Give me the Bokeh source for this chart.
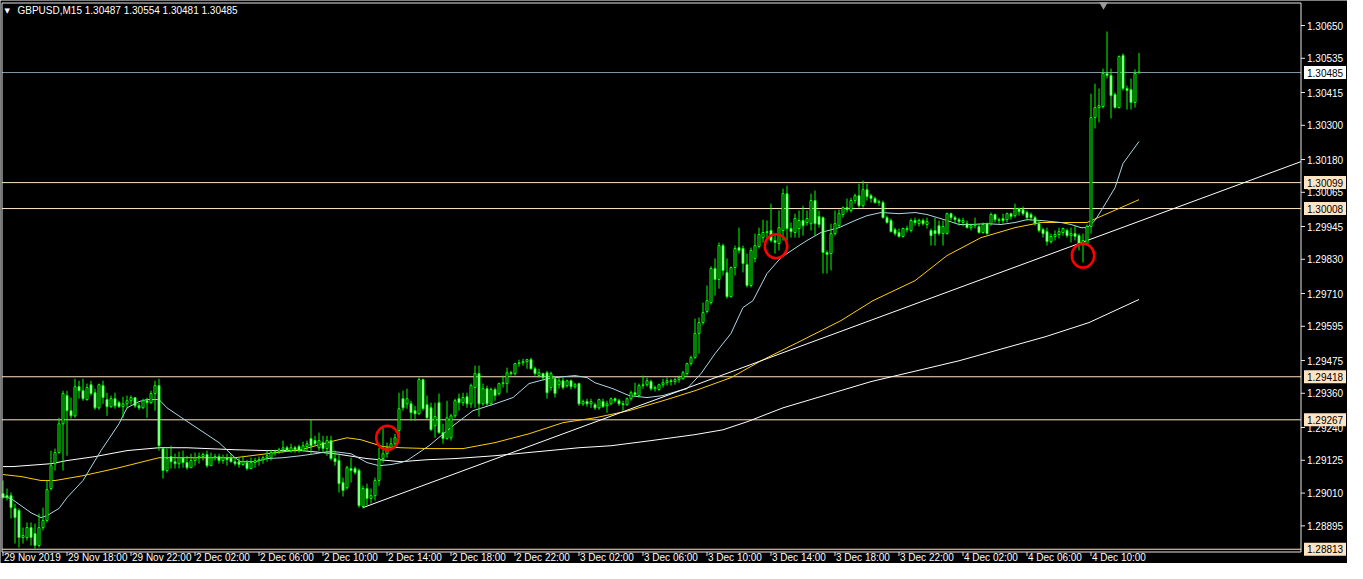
from bokeh.plotting import figure
from bokeh.models import ColumnDataSource, Range1d
from bokeh.embed import file_html
from bokeh.resources import INLINE
from bokeh.core.properties import value

# ---------------- data (GBPUSD M15, 29 Nov 2019 14:00 -> 4 Dec 2019 13:00) ----------------
opens = [
    1.29008, 1.29001, 1.29001, 1.28956, 1.28949, 1.28854, 1.28854, 1.28889, 1.28868, 1.28826,
    1.28889, 1.28914, 1.29026, 1.29113, 1.29152, 1.29253, 1.29352, 1.29299, 1.29281, 1.29383,
    1.29369, 1.29338, 1.29390, 1.29362, 1.29309, 1.29387, 1.29338, 1.29313, 1.29341, 1.29327,
    1.29313, 1.29323, 1.29334, 1.29345, 1.29316, 1.29309, 1.29334, 1.29327, 1.29359, 1.29387,
    1.29166, 1.29089, 1.29138, 1.29120, 1.29113, 1.29134, 1.29117, 1.29099, 1.29124, 1.29134,
    1.29138, 1.29145, 1.29106, 1.29134, 1.29138, 1.29124, 1.29134, 1.29134, 1.29120, 1.29120,
    1.29110, 1.29117, 1.29096, 1.29117, 1.29124, 1.29127, 1.29134, 1.29134, 1.29152, 1.29155,
    1.29162, 1.29169, 1.29159, 1.29169, 1.29173, 1.29159, 1.29173, 1.29201, 1.29194, 1.29169,
    1.29187, 1.29166, 1.29194, 1.29131, 1.29124, 1.29047, 1.29029, 1.29096, 1.29096, 1.29089,
    1.28963, 1.29026, 1.28991, 1.29001, 1.29054, 1.29131, 1.29148, 1.29169, 1.29183, 1.29229,
    1.29341, 1.29323, 1.29323, 1.29299, 1.29288, 1.29408, 1.29320, 1.29309, 1.29246, 1.29327,
    1.29222, 1.29201, 1.29204, 1.29281, 1.29341, 1.29327, 1.29348, 1.29323, 1.29380, 1.29429,
    1.29323, 1.29376, 1.29323, 1.29373, 1.29359, 1.29394, 1.29394, 1.29432, 1.29429, 1.29464,
    1.29467, 1.29471, 1.29478, 1.29446, 1.29422, 1.29429, 1.29432, 1.29380, 1.29411, 1.29390,
    1.29404, 1.29387, 1.29404, 1.29383, 1.29394, 1.29323, 1.29331, 1.29323, 1.29320, 1.29309,
    1.29331, 1.29316, 1.29323, 1.29341, 1.29334, 1.29323, 1.29320, 1.29341, 1.29362, 1.29352,
    1.29387, 1.29390, 1.29401, 1.29376, 1.29373, 1.29390, 1.29397, 1.29404, 1.29401, 1.29408,
    1.29411, 1.29429, 1.29464, 1.29485, 1.29570, 1.29608, 1.29647, 1.29678, 1.29798, 1.29759,
    1.29878, 1.29784, 1.29699, 1.29801, 1.29871, 1.29868, 1.29812, 1.29738, 1.29833, 1.29875,
    1.29906, 1.29924, 1.29931, 1.29896, 1.29885, 1.29931, 1.30060, 1.29938, 1.29924, 1.29938,
    1.29966, 1.29959, 1.29955, 1.30036, 1.29980, 1.29976, 1.29854, 1.29850, 1.29920, 1.29948,
    1.29987, 1.30011, 1.30001, 1.30036, 1.30053, 1.30018, 1.30074, 1.30053, 1.30043, 1.30029,
    1.30029, 1.29976, 1.29966, 1.29934, 1.29924, 1.29910, 1.29938, 1.29931, 1.29966, 1.29955,
    1.29966, 1.29952, 1.29931, 1.29931, 1.29948, 1.29920, 1.29920, 1.29990, 1.29976, 1.29969,
    1.29959, 1.29955, 1.29941, 1.29948, 1.29945, 1.29924, 1.29955, 1.29955, 1.29987, 1.29969,
    1.29973, 1.29969, 1.29990, 1.29983, 1.30008, 1.30004, 1.29994, 1.29987, 1.29976, 1.29955,
    1.29934, 1.29927, 1.29892, 1.29910, 1.29917, 1.29924, 1.29931, 1.29913, 1.29920, 1.29913,
    1.29885, 1.29885, 1.29945, 1.30327, 1.30362, 1.30366, 1.30482, 1.30475, 1.30408, 1.30362,
    1.30545, 1.30429, 1.30425, 1.30380, 1.30487,
]
highs = [
    1.29054, 1.29026, 1.29012, 1.28973, 1.28956, 1.28889, 1.28907, 1.28907, 1.28903, 1.28938,
    1.28959, 1.29054, 1.29159, 1.29166, 1.29274, 1.29369, 1.29369, 1.29345, 1.29411, 1.29404,
    1.29411, 1.29394, 1.29404, 1.29376, 1.29394, 1.29404, 1.29362, 1.29352, 1.29362, 1.29334,
    1.29348, 1.29352, 1.29352, 1.29345, 1.29327, 1.29341, 1.29345, 1.29369, 1.29404, 1.29411,
    1.29166, 1.29166, 1.29176, 1.29148, 1.29155, 1.29159, 1.29141, 1.29148, 1.29152, 1.29152,
    1.29152, 1.29159, 1.29152, 1.29148, 1.29148, 1.29145, 1.29148, 1.29148, 1.29134, 1.29134,
    1.29141, 1.29127, 1.29134, 1.29134, 1.29138, 1.29141, 1.29159, 1.29162, 1.29162, 1.29169,
    1.29194, 1.29176, 1.29183, 1.29176, 1.29180, 1.29190, 1.29194, 1.29267, 1.29211, 1.29222,
    1.29211, 1.29211, 1.29211, 1.29159, 1.29148, 1.29064, 1.29106, 1.29134, 1.29103, 1.29096,
    1.29036, 1.29043, 1.29026, 1.29064, 1.29169, 1.29239, 1.29187, 1.29204, 1.29218, 1.29362,
    1.29369, 1.29376, 1.29334, 1.29316, 1.29415, 1.29411, 1.29352, 1.29327, 1.29327, 1.29359,
    1.29253, 1.29334, 1.29288, 1.29341, 1.29359, 1.29362, 1.29362, 1.29394, 1.29457, 1.29457,
    1.29394, 1.29387, 1.29380, 1.29380, 1.29397, 1.29422, 1.29450, 1.29439, 1.29467, 1.29478,
    1.29481, 1.29481, 1.29485, 1.29453, 1.29446, 1.29432, 1.29439, 1.29436, 1.29415, 1.29415,
    1.29415, 1.29408, 1.29408, 1.29397, 1.29397, 1.29338, 1.29341, 1.29341, 1.29327, 1.29341,
    1.29341, 1.29334, 1.29345, 1.29345, 1.29341, 1.29334, 1.29345, 1.29369, 1.29397, 1.29394,
    1.29422, 1.29415, 1.29408, 1.29387, 1.29394, 1.29411, 1.29415, 1.29411, 1.29415, 1.29422,
    1.29439, 1.29467, 1.29492, 1.29622, 1.29626, 1.29678, 1.29738, 1.29805, 1.29833, 1.29889,
    1.29885, 1.29833, 1.29805, 1.29878, 1.29941, 1.29878, 1.29850, 1.29871, 1.29920, 1.29941,
    1.29969, 1.29966, 1.30025, 1.29920, 1.30001, 1.30078, 1.30088, 1.29959, 1.29990, 1.30001,
    1.30018, 1.30001, 1.30060, 1.30071, 1.30001, 1.29980, 1.29861, 1.29955, 1.30001, 1.30004,
    1.30015, 1.30043, 1.30046, 1.30060, 1.30095, 1.30106, 1.30095, 1.30060, 1.30050, 1.30039,
    1.30036, 1.29983, 1.29973, 1.29941, 1.29938, 1.29941, 1.29948, 1.29973, 1.29976, 1.29973,
    1.29973, 1.29976, 1.29938, 1.29976, 1.29966, 1.29966, 1.29994, 1.29994, 1.29983, 1.29976,
    1.29976, 1.29966, 1.29955, 1.29976, 1.29955, 1.29959, 1.29959, 1.29994, 1.29990, 1.29976,
    1.29990, 1.29994, 1.29994, 1.30025, 1.30011, 1.30015, 1.30001, 1.29994, 1.29983, 1.29966,
    1.29941, 1.29941, 1.29920, 1.29931, 1.29941, 1.29941, 1.29938, 1.29941, 1.29948, 1.29920,
    1.29920, 1.29952, 1.30411, 1.30446, 1.30429, 1.30499, 1.30629, 1.30499, 1.30415, 1.30545,
    1.30552, 1.30439, 1.30464, 1.30496, 1.30554,
]
lows = [
    1.28991, 1.28984, 1.28921, 1.28833, 1.28819, 1.28833, 1.28844, 1.28826, 1.28815, 1.28819,
    1.28879, 1.28907, 1.29019, 1.29089, 1.29148, 1.29089, 1.29141, 1.29271, 1.29274, 1.29341,
    1.29334, 1.29334, 1.29352, 1.29302, 1.29302, 1.29323, 1.29281, 1.29309, 1.29306, 1.29309,
    1.29274, 1.29306, 1.29320, 1.29309, 1.29302, 1.29306, 1.29274, 1.29323, 1.29299, 1.29159,
    1.29061, 1.29082, 1.29096, 1.29096, 1.29096, 1.29099, 1.29092, 1.29099, 1.29106, 1.29113,
    1.29124, 1.29099, 1.29106, 1.29124, 1.29113, 1.29113, 1.29106, 1.29117, 1.29106, 1.29099,
    1.29106, 1.29089, 1.29096, 1.29099, 1.29106, 1.29113, 1.29120, 1.29124, 1.29141, 1.29148,
    1.29152, 1.29155, 1.29152, 1.29152, 1.29152, 1.29159, 1.29159, 1.29148, 1.29176, 1.29159,
    1.29152, 1.29141, 1.29124, 1.29106, 1.29012, 1.28998, 1.29022, 1.29047, 1.29075, 1.28959,
    1.28956, 1.28966, 1.28973, 1.28984, 1.29036, 1.29117, 1.29134, 1.29159, 1.29166, 1.29204,
    1.29299, 1.29306, 1.29264, 1.29264, 1.29285, 1.29299, 1.29271, 1.29229, 1.29204, 1.29218,
    1.29183, 1.29197, 1.29194, 1.29274, 1.29299, 1.29316, 1.29309, 1.29309, 1.29309, 1.29278,
    1.29316, 1.29316, 1.29316, 1.29334, 1.29352, 1.29380, 1.29362, 1.29422, 1.29422, 1.29453,
    1.29457, 1.29446, 1.29443, 1.29422, 1.29415, 1.29404, 1.29341, 1.29369, 1.29345, 1.29376,
    1.29373, 1.29380, 1.29373, 1.29376, 1.29316, 1.29316, 1.29313, 1.29309, 1.29302, 1.29302,
    1.29309, 1.29292, 1.29320, 1.29327, 1.29316, 1.29299, 1.29316, 1.29334, 1.29348, 1.29345,
    1.29376, 1.29383, 1.29369, 1.29366, 1.29369, 1.29380, 1.29387, 1.29387, 1.29390, 1.29397,
    1.29408, 1.29422, 1.29457, 1.29481, 1.29499, 1.29601, 1.29640, 1.29671, 1.29703, 1.29727,
    1.29773, 1.29692, 1.29696, 1.29773, 1.29850, 1.29784, 1.29731, 1.29731, 1.29819, 1.29868,
    1.29889, 1.29903, 1.29889, 1.29850, 1.29861, 1.29896, 1.29896, 1.29906, 1.29906, 1.29906,
    1.29913, 1.29948, 1.29931, 1.29913, 1.29941, 1.29780, 1.29780, 1.29791, 1.29913, 1.29941,
    1.29976, 1.29994, 1.29994, 1.30025, 1.30011, 1.30011, 1.30036, 1.30029, 1.30025, 1.30018,
    1.29973, 1.29955, 1.29924, 1.29913, 1.29906, 1.29906, 1.29924, 1.29924, 1.29948, 1.29945,
    1.29948, 1.29938, 1.29878, 1.29878, 1.29913, 1.29878, 1.29917, 1.29966, 1.29955, 1.29948,
    1.29945, 1.29938, 1.29931, 1.29938, 1.29920, 1.29920, 1.29917, 1.29948, 1.29959, 1.29955,
    1.29955, 1.29959, 1.29969, 1.29976, 1.29983, 1.29983, 1.29966, 1.29966, 1.29948, 1.29924,
    1.29906, 1.29878, 1.29885, 1.29896, 1.29903, 1.29913, 1.29906, 1.29889, 1.29896, 1.29861,
    1.29819, 1.29878, 1.29920, 1.30289, 1.30310, 1.30359, 1.30464, 1.30324, 1.30359, 1.30359,
    1.30422, 1.30355, 1.30355, 1.30362, 1.30481,
]
closes = [
    1.28994, 1.28994, 1.28959, 1.28924, 1.28854, 1.28861, 1.28889, 1.28854, 1.28826, 1.28889,
    1.28914, 1.29022, 1.29106, 1.29152, 1.29253, 1.29359, 1.29299, 1.29281, 1.29383, 1.29369,
    1.29341, 1.29380, 1.29359, 1.29309, 1.29390, 1.29345, 1.29313, 1.29341, 1.29316, 1.29313,
    1.29323, 1.29334, 1.29345, 1.29316, 1.29309, 1.29334, 1.29327, 1.29359, 1.29387, 1.29176,
    1.29089, 1.29131, 1.29120, 1.29113, 1.29134, 1.29117, 1.29099, 1.29124, 1.29134, 1.29138,
    1.29145, 1.29106, 1.29134, 1.29138, 1.29124, 1.29134, 1.29127, 1.29120, 1.29113, 1.29110,
    1.29120, 1.29096, 1.29117, 1.29124, 1.29127, 1.29134, 1.29141, 1.29152, 1.29155, 1.29162,
    1.29169, 1.29159, 1.29169, 1.29162, 1.29159, 1.29176, 1.29183, 1.29176, 1.29183, 1.29194,
    1.29166, 1.29194, 1.29131, 1.29120, 1.29043, 1.29019, 1.29099, 1.29089, 1.29082, 1.28966,
    1.29026, 1.28991, 1.29001, 1.29054, 1.29131, 1.29148, 1.29169, 1.29183, 1.29204, 1.29306,
    1.29309, 1.29341, 1.29292, 1.29288, 1.29408, 1.29306, 1.29274, 1.29232, 1.29278, 1.29222,
    1.29201, 1.29274, 1.29281, 1.29334, 1.29327, 1.29345, 1.29323, 1.29387, 1.29429, 1.29323,
    1.29376, 1.29323, 1.29373, 1.29352, 1.29394, 1.29397, 1.29432, 1.29429, 1.29464, 1.29467,
    1.29471, 1.29478, 1.29446, 1.29429, 1.29432, 1.29415, 1.29362, 1.29429, 1.29359, 1.29404,
    1.29380, 1.29404, 1.29383, 1.29390, 1.29323, 1.29331, 1.29323, 1.29331, 1.29309, 1.29338,
    1.29313, 1.29323, 1.29341, 1.29334, 1.29323, 1.29320, 1.29341, 1.29362, 1.29355, 1.29387,
    1.29390, 1.29404, 1.29376, 1.29380, 1.29390, 1.29397, 1.29404, 1.29401, 1.29408, 1.29415,
    1.29432, 1.29464, 1.29485, 1.29570, 1.29608, 1.29643, 1.29685, 1.29798, 1.29759, 1.29878,
    1.29791, 1.29699, 1.29801, 1.29868, 1.29861, 1.29815, 1.29738, 1.29861, 1.29878, 1.29917,
    1.29924, 1.29927, 1.29896, 1.29889, 1.29941, 1.30060, 1.29938, 1.29927, 1.29973, 1.29966,
    1.29948, 1.29973, 1.30036, 1.29955, 1.29952, 1.29854, 1.29847, 1.29920, 1.29955, 1.29990,
    1.30011, 1.30004, 1.30036, 1.30053, 1.30018, 1.30074, 1.30050, 1.30043, 1.30029, 1.30032,
    1.29976, 1.29959, 1.29927, 1.29920, 1.29910, 1.29938, 1.29934, 1.29966, 1.29959, 1.29966,
    1.29955, 1.29962, 1.29913, 1.29920, 1.29920, 1.29945, 1.29990, 1.29976, 1.29969, 1.29962,
    1.29966, 1.29941, 1.29948, 1.29952, 1.29924, 1.29952, 1.29920, 1.29987, 1.29969, 1.29966,
    1.29966, 1.29990, 1.29980, 1.30008, 1.29997, 1.29990, 1.29976, 1.29976, 1.29955, 1.29931,
    1.29920, 1.29892, 1.29910, 1.29917, 1.29927, 1.29938, 1.29913, 1.29920, 1.29910, 1.29885,
    1.29896, 1.29945, 1.30327, 1.30362, 1.30369, 1.30482, 1.30475, 1.30404, 1.30362, 1.30541,
    1.30429, 1.30422, 1.30380, 1.30482, 1.30485,
]

# moving averages (bar index, price)
ma_fast_idx = [0, 2, 4.5, 7, 9.5, 11, 14, 16, 20, 24.5, 29, 31, 34, 36, 39, 41, 45, 49.5, 54, 58,
               59.5, 63, 66, 70, 74.5, 78, 81, 83, 87, 91, 94, 97, 99.5, 101, 106.5, 112.5, 117.5,
               123, 127.5, 131.5, 136, 140, 143, 146, 148, 152.5, 156.5, 161, 165, 169, 171, 174.5,
               178, 182, 185, 187.5, 191, 194.5, 199, 201, 204.5, 209, 213, 216, 219.5, 224, 228,
               231, 236, 239, 242, 246, 249.5, 253, 256, 259.5, 264.5, 267, 269.5, 271, 273, 275,
               278, 280, 284]
ma_fast_val = [1.28998, 1.28991, 1.28966, 1.28941, 1.28924, 1.28931, 1.28956, 1.28994, 1.29054,
               1.29159, 1.29253, 1.29309, 1.29331, 1.29338, 1.29338, 1.29309, 1.29271, 1.29229,
               1.29187, 1.29134, 1.29120, 1.29120, 1.29131, 1.29134, 1.29141, 1.29148, 1.29155,
               1.29155, 1.29148, 1.29117, 1.29106, 1.29110, 1.29117, 1.29124, 1.29176, 1.29246,
               1.29299, 1.29323, 1.29345, 1.29394, 1.29411, 1.29418, 1.29422, 1.29415, 1.29397,
               1.29376, 1.29352, 1.29345, 1.29352, 1.29369, 1.29376, 1.29429, 1.29499, 1.29570,
               1.29661, 1.29685, 1.29780, 1.29836, 1.29878, 1.29896, 1.29924, 1.29941, 1.29966,
               1.29983, 1.29994, 1.29990, 1.29994, 1.29987, 1.29966, 1.29952, 1.29952, 1.29955,
               1.29952, 1.29959, 1.29969, 1.29966, 1.29959, 1.29952, 1.29941, 1.29941, 1.29966,
               1.30011, 1.30081, 1.30166, 1.30243]
ma_mid_idx = [0, 4.5, 9.5, 13, 20, 29, 39, 46, 58, 66, 74.5, 83, 86, 89.5, 95, 99.5, 106.5, 115,
              123, 131.5, 140, 148, 156.5, 165, 173, 182, 189.5, 199.5, 209.5, 217.5, 228, 236,
              244.5, 253, 259.5, 271, 276, 284]
ma_mid_val = [1.29075, 1.29068, 1.29054, 1.29054, 1.29071, 1.29099, 1.29134, 1.29134, 1.29134,
              1.29148, 1.29162, 1.29194, 1.29204, 1.29197, 1.29173, 1.29169, 1.29166, 1.29166,
              1.29187, 1.29218, 1.29257, 1.29274, 1.29299, 1.29334, 1.29369, 1.29415, 1.29474,
              1.29544, 1.29615, 1.29685, 1.29755, 1.29843, 1.29906, 1.29941, 1.29959, 1.29959,
              1.29990, 1.30039]
ma_slow_idx = [0, 2.5, 12, 16, 23, 31, 39, 46, 58, 66, 74.5, 83, 91, 99.5, 106, 113, 123, 144,
               152, 162, 173, 180, 186, 195, 217, 239, 260.5, 271.5, 284]
ma_slow_val = [1.29103, 1.29103, 1.29113, 1.29124, 1.29138, 1.29159, 1.29169, 1.29169, 1.29162,
               1.29159, 1.29159, 1.29148, 1.29131, 1.29120, 1.29127, 1.29131, 1.29141, 1.29169,
               1.29176, 1.29194, 1.29215, 1.29232, 1.29260, 1.29309, 1.29401, 1.29474, 1.29558,
               1.29608, 1.29689]

# trend line anchors (bar index, price)
trend_idx = [90, 284]
trend_val = [1.28959, 1.29963]

# horizontal levels
levels = [1.30099, 1.30008, 1.29418, 1.29267, 1.28813]
bid = 1.30485

# marked spots (red ellipses)
mark_idx = [96.1, 193.25, 270]
mark_val = [1.29204, 1.29876, 1.29843]

price_ticks = [1.30650, 1.30535, 1.30415, 1.30300, 1.30180, 1.30065, 1.29945, 1.29830, 1.29710,
               1.29595, 1.29475, 1.29360, 1.29240, 1.29125, 1.29010, 1.28895, 1.28780]
time_labels = ["29 Nov 2019", "29 Nov 18:00", "29 Nov 22:00", "2 Dec 02:00", "2 Dec 06:00",
               "2 Dec 10:00", "2 Dec 14:00", "2 Dec 18:00", "2 Dec 22:00", "3 Dec 02:00",
               "3 Dec 06:00", "3 Dec 10:00", "3 Dec 14:00", "3 Dec 18:00", "3 Dec 22:00",
               "4 Dec 02:00", "4 Dec 06:00", "4 Dec 10:00"]
time_label_idx = [16 * k for k in range(len(time_labels))]
title_text = "GBPUSD,M15  1.30487 1.30554 1.30481 1.30485"

# ---------------- layout (pixel helpers -> data coordinates) ----------------
W, H = 1347, 563
BAR_PX = 4.0
PPU = 28511.0                 # pixels per price unit
REF_P, REF_Y = 1.30650, 25.0  # price shown at pixel row 25
X0 = -0.625


def xd(px):
    return X0 + px / BAR_PX


def yd(py):
    return REF_P - (py - REF_Y) / PPU


CH_L, CH_R, CH_T, CH_B = 1.5, 1300.5, 2.5, 551.5   # chart box edges (px)

FONT = value("Liberation Sans")
FS = value("10px")
GREEN = "#00FF00"
LEVEL = "#FFE4C4"
FRAME = "#E6E6E6"

p = figure(width=W, height=H, x_range=Range1d(xd(0), xd(W)), y_range=Range1d(yd(H), yd(0)),
           output_backend="svg", toolbar_location=None,
           x_axis_location=None, y_axis_location=None,
           background_fill_color="black", border_fill_color="black",
           min_border=0, min_border_left=0, min_border_right=0,
           min_border_top=0, min_border_bottom=0)
p.outline_line_color = None
p.grid.visible = False

# horizontal levels and bid line (inside chart box)
p.segment(x0=[xd(CH_L)] * len(levels), y0=levels, x1=[xd(CH_R)] * len(levels), y1=levels,
          line_color=LEVEL, line_width=1)
p.segment(x0=[xd(CH_L)], y0=[bid], x1=[xd(CH_R)], y1=[bid], line_color="#8898A8", line_width=1)

# moving averages
p.line(ma_slow_idx, ma_slow_val, line_color="white", line_width=1)
p.line(ma_mid_idx, ma_mid_val, line_color="#FFD000", line_width=1)
p.line(ma_fast_idx, ma_fast_val, line_color="#ADD8E6", line_width=1)

# trend line extended as a ray to the chart edge
slope = (trend_val[1] - trend_val[0]) / (trend_idx[1] - trend_idx[0])
x_ray = xd(CH_R)
p.line([trend_idx[0], x_ray], [trend_val[0], trend_val[0] + slope * (x_ray - trend_idx[0])],
       line_color="white", line_width=1)

# candles
n = len(closes)
src = ColumnDataSource(dict(
    x=list(range(n)), h=highs, l=lows,
    top=[max(o, c) for o, c in zip(opens, closes)],
    bottom=[min(o, c) for o, c in zip(opens, closes)],
    fill=["black" if c >= o else "white" for o, c in zip(opens, closes)],
))
p.segment(x0="x", y0="h", x1="x", y1="l", source=src, line_color=GREEN, line_width=1)
p.vbar(x="x", top="top", bottom="bottom", width=0.5, source=src,
       fill_color="fill", line_color=GREEN, line_width=1)

# red ellipses
p.ellipse(x=mark_idx, y=mark_val, width=5.6, height=24 / PPU,
          fill_color=None, line_color="#FF0000", line_width=2.5)

# chart box
p.segment(x0=[xd(CH_L), xd(CH_L), xd(CH_R), xd(CH_L)],
          y0=[yd(CH_T), yd(CH_B), yd(CH_T), yd(CH_T)],
          x1=[xd(CH_R), xd(CH_R), xd(CH_R), xd(CH_L)],
          y1=[yd(CH_T), yd(CH_B), yd(CH_B), yd(CH_B)],
          line_color=FRAME, line_width=1)

# price scale on the right
vis_ticks = [t for t in price_ticks if t > yd(CH_B - 3)]
p.segment(x0=[xd(CH_R)] * len(vis_ticks), y0=vis_ticks,
          x1=[xd(CH_R + 4)] * len(vis_ticks), y1=vis_ticks, line_color=FRAME, line_width=1)
p.text(x=[xd(CH_R + 6)] * len(vis_ticks), y=vis_ticks, text=[f"{t:.5f}" for t in vis_ticks],
       text_font=FONT, text_font_size=FS, text_color="white",
       text_baseline="middle", text_align="left")

# price boxes for the levels and the bid
box_p = levels + [bid]
box_c = [LEVEL] * len(levels) + ["white"]
p.rect(x=[xd(CH_R + 24)] * len(box_p), y=box_p, width=42 / BAR_PX, height=13 / PPU,
       fill_color=box_c, line_color=None)
p.text(x=[xd(CH_R + 6)] * len(box_p), y=box_p, text=[f"{v:.5f}" for v in box_p],
       text_font=FONT, text_font_size=FS, text_color="black",
       text_baseline="middle", text_align="left")

# time scale at the bottom
p.segment(x0=time_label_idx, y0=[yd(CH_B)] * len(time_label_idx),
          x1=time_label_idx, y1=[yd(CH_B + 4)] * len(time_label_idx),
          line_color=FRAME, line_width=1)
p.text(x=[t + 0.25 for t in time_label_idx], y=[yd(H - 0.5)] * len(time_label_idx),
       text=time_labels, text_font=FONT, text_font_size=FS, text_color="white",
       text_baseline="bottom", text_align="left")

# chart title and shift marker
p.text(x=[xd(4)], y=[yd(6)], text=["\u25bc"], text_font=value("DejaVu Sans"),
       text_font_size=value("7px"), text_color="white", text_baseline="top", text_align="left")
p.text(x=[xd(17)], y=[yd(4)], text=[title_text], text_font=FONT, text_font_size=FS,
       text_color="white", text_baseline="top", text_align="left")
p.scatter(x=[xd(1103)], y=[yd(4)], marker="inverted_triangle", size=9,
          fill_color="#9A9A9A", line_color=None)

open("out.html", "w").write(file_html(p, INLINE))
